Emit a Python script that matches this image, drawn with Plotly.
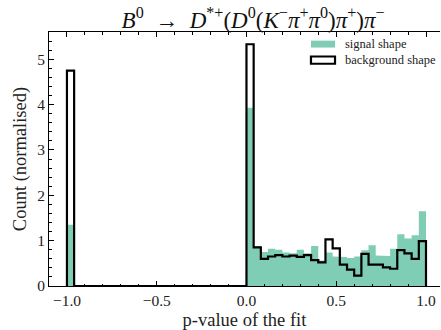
import numpy as np
import plotly.graph_objects as go

# Histogram binning: 50 bins of width 0.04 spanning [-1, 1]; -1 marks failed fits
bin_edges = np.linspace(-1.0, 1.0, 51)

# Normalised counts per bin
signal_counts = (
    [1.35] + [0.0] * 24 +
    [3.93, 0.88, 0.75, 0.82, 0.80, 0.74, 0.72, 0.80, 0.72, 0.88,
     0.56, 0.74, 0.65, 0.64, 0.62, 0.65, 0.79, 0.90, 0.67, 0.66,
     0.82, 1.14, 1.05, 1.12, 1.65]
)
background_counts = (
    [4.75] + [0.0] * 24 +
    [5.33, 0.85, 0.60, 0.65, 0.68, 0.65, 0.67, 0.64, 0.68, 0.57,
     0.52, 1.03, 0.83, 0.47, 0.36, 0.23, 0.71, 0.47, 0.47, 0.41,
     0.38, 0.79, 0.72, 0.60, 0.99]
)

x_ticks = [-1.0, -0.5, 0.0, 0.5, 1.0]
y_ticks = [0, 1, 2, 3, 4, 5]

SIGNAL_COLOR = "rgb(128,205,182)"
FONT = "Liberation Serif"


def step_path(edges, counts):
    """Outline of a histogram as explicit step coordinates."""
    xs, ys = [edges[0]], [0.0]
    for i, c in enumerate(counts):
        xs += [edges[i], edges[i + 1]]
        ys += [c, c]
    xs.append(edges[-1])
    ys.append(0.0)
    return xs, ys


sx, sy = step_path(bin_edges, signal_counts)
bx, by = step_path(bin_edges, background_counts)

fig = go.Figure()
fig.add_trace(go.Scatter(
    x=sx, y=sy, mode="lines", fill="tozeroy", fillcolor=SIGNAL_COLOR,
    line=dict(width=0, color=SIGNAL_COLOR), name="signal shape",
    showlegend=False, hoverinfo="skip",
))
fig.add_trace(go.Scatter(
    x=bx, y=by, mode="lines", line=dict(width=2.2, color="black"),
    name="background shape", showlegend=False, hoverinfo="skip",
))

tick_font = dict(family=FONT, size=15.5, color="#222")
label_font = dict(family=FONT, size=18.5, color="#222")
fig.update_layout(
    width=441, height=330,
    margin=dict(l=49, r=1, t=32, b=42),
    plot_bgcolor="white", paper_bgcolor="white",
    font=dict(family=FONT, color="#222"),
    title=dict(
        text="<i>B</i><sup>0</sup>  →  <i>D</i><sup>*+</sup>(<i>D</i><sup>0</sup>"
             "(<i>K</i><sup>−</sup><i>π</i><sup>+</sup><i>π</i><sup>0</sup>)"
             "<i>π</i><sup>+</sup>)<i>π</i><sup>−</sup>",
        font=dict(family=FONT, size=23, color="#111"),
        x=0.522, xref="paper", xanchor="center",
        y=0.94, yref="container", yanchor="middle",
    ),
    xaxis=dict(
        range=[-1.1, 1.078], tickvals=x_ticks, tickformat=".1f",
        ticks="inside", ticklen=5, tickwidth=1, tickcolor="black",
        minor=dict(ticks="inside", dtick=0.1, ticklen=2.5, tickwidth=0.8, tickcolor="black"),
        showline=True, linecolor="black", linewidth=1, mirror="ticks",
        showgrid=False, zeroline=False, tickfont=tick_font,
        title=dict(text="p-value of the fit", font=label_font, standoff=7),
    ),
    yaxis=dict(
        range=[0, 5.6], tickvals=y_ticks,
        ticks="inside", ticklen=5, tickwidth=1, tickcolor="black",
        minor=dict(ticks="inside", dtick=0.2, ticklen=2.5, tickwidth=0.8, tickcolor="black"),
        showline=True, linecolor="black", linewidth=1,
        showgrid=False, zeroline=False, tickfont=tick_font,
        title=dict(text="Count (normalised)", font=label_font, standoff=5),
    ),
    yaxis2=dict(
        overlaying="y", side="right", anchor="x", range=[0, 5.6], tickvals=y_ticks,
        ticks="inside", ticklen=5, tickwidth=1, tickcolor="black",
        minor=dict(ticks="inside", dtick=0.2, ticklen=2.5, tickwidth=0.8, tickcolor="black"),
        showline=False, showgrid=False, zeroline=False, showticklabels=False,
    ),
)

# Legend drawn as patches and labels in the upper-right corner
fig.add_shape(type="rect", xref="paper", yref="paper",
              x0=0.670, x1=0.7315, y0=0.9387, y1=0.966,
              fillcolor=SIGNAL_COLOR, line=dict(width=0))
fig.add_shape(type="rect", xref="paper", yref="paper",
              x0=0.670, x1=0.7315, y0=0.875, y1=0.9035,
              fillcolor="white", line=dict(width=2.2, color="black"))
legend_font = dict(family=FONT, size=12.5, color="#222")
fig.add_annotation(text="signal shape", xref="paper", yref="paper",
                   x=0.752, y=0.951, xanchor="left", yanchor="middle",
                   showarrow=False, font=legend_font)
fig.add_annotation(text="background shape", xref="paper", yref="paper",
                   x=0.752, y=0.889, xanchor="left", yanchor="middle",
                   showarrow=False, font=legend_font)

fig.write_html("out.html")
